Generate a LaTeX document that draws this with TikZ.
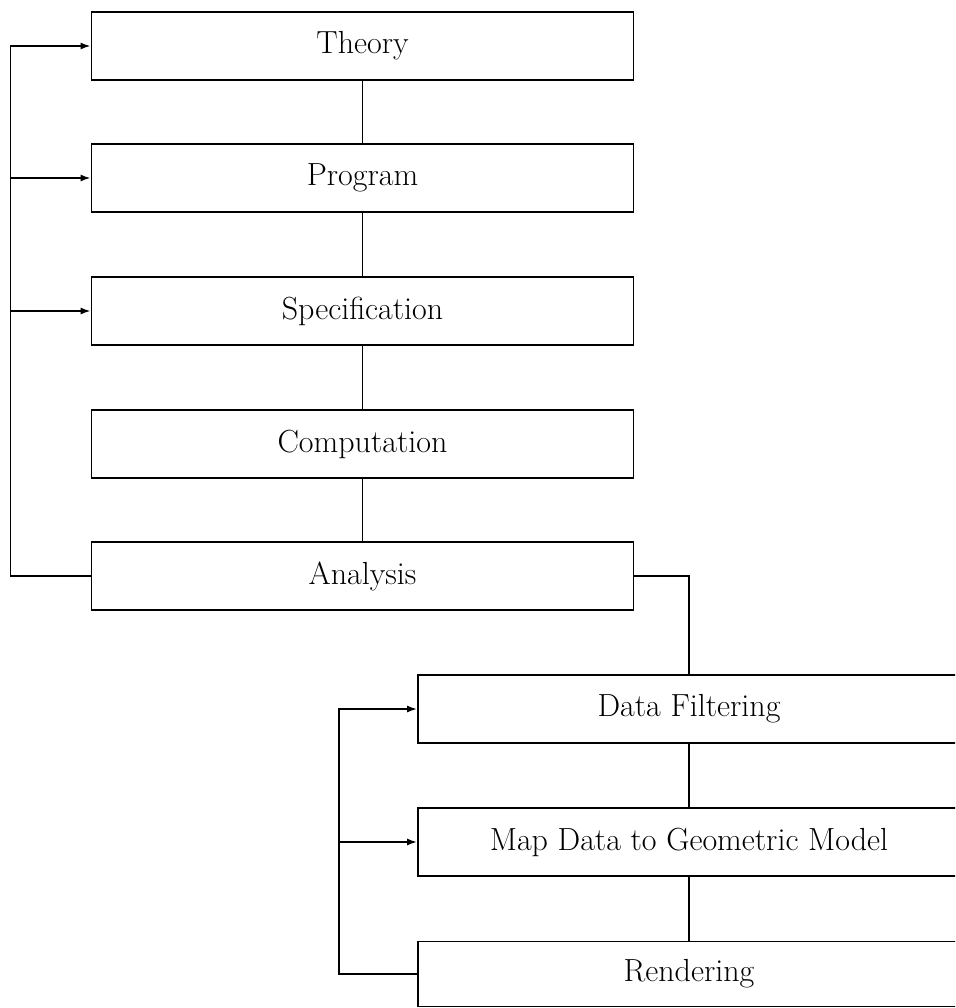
\documentclass[tikz,border=0pt]{standalone}
\usepackage{tikz}
\usetikzlibrary{positioning}
\usetikzlibrary{arrows.meta}
\tikzset{
    mybox/.style = {rectangle, draw=black, line width=1pt, inner sep=0pt, minimum width=10.84cm, minimum height=1.36cm, align=center, fill=white, font=\fontsize{18.2}{21}\selectfont, text=black},
    myboxl/.style = {mybox, minimum height=1.30cm},
    edgen/.style = {-, line width=1pt, black},
    edgea/.style = {-{Latex[length=2mm,width=1.4mm]}, line width=1pt, black}
}
\begin{document}
\begin{tikzpicture}
\useasboundingbox (0,0) rectangle (19.1,-20.16);
\clip (0,0) rectangle (19.1,-20.16);
\node[mybox] at (7.25, -0.92) (theory) {Theory};
\node[mybox] at (7.25, -3.56) (program) {Program};
\node[mybox] at (7.25, -6.22) (spec) {Specification};
\node[mybox] at (7.25, -8.88) (comp) {Computation};
\node[mybox] at (7.25, -11.52) (analysis) {Analysis};
\node[mybox] at (13.78, -14.18) (filter) {Data Filtering};
\node[mybox] at (13.78, -16.84) (mapdata) {Map Data to Geometric Model};
\node[myboxl] at (13.78, -19.48) (render) {Rendering};
%
\draw[edgen] (theory) -- (program);
\draw[edgen] (program) -- (spec);
\draw[edgen] (spec) -- (comp);
\draw[edgen] (comp) -- (analysis);
\draw[edgea] (analysis.west) -- ++(-1.60,0) coordinate (lbus) |- (theory);
\draw[edgea] (lbus |- program) -- (program);
\draw[edgea] (lbus |- spec) -- (spec);
%
\draw[edgen] (analysis) -| (filter);
\draw[edgen] (filter) -- (mapdata);
\draw[edgen] (mapdata) -- (render);
\draw[edgea] (render.west) -- ++(-1.56,0) coordinate (rbus) |- (filter);
\draw[edgea] (rbus |- mapdata) -- (mapdata);

\end{tikzpicture}
\end{document}
